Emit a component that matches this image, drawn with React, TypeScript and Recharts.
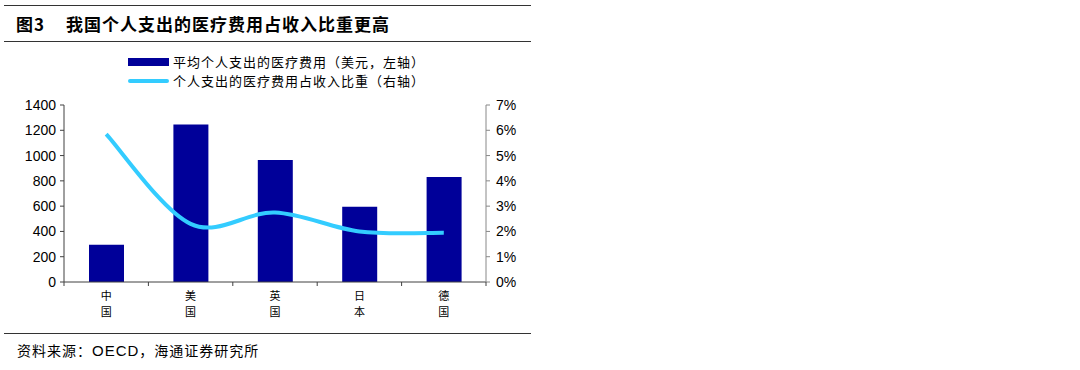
import { ComposedChart, Bar, Line, XAxis, YAxis } from 'recharts'

const categories = ['中国', '美国', '英国', '日本', '德国']
const spending = [295, 1245, 965, 595, 830]
const shareOfIncome = [5.85, 2.3, 2.75, 2.0, 1.95]
const leftTicks = [0, 200, 400, 600, 800, 1000, 1200, 1400]
const rightTicks = [0, 1, 2, 3, 4, 5, 6, 7]

const barName = '平均个人支出的医疗费用（美元，左轴）'
const lineName = '个人支出的医疗费用占收入比重（右轴）'

const data = categories.map((name, i) => ({
  name,
  spending: spending[i],
  share: shareOfIncome[i],
}))

const BAR_COLOR = '#000099'
const LINE_COLOR = '#33CCFF'
const CJK = '"Noto Sans CJK SC", sans-serif'
const LATIN = '"Liberation Sans", Arial, sans-serif'
const BAND = (486 - 64) / categories.length

// Excel-style smoothed line (Catmull-Rom through the points)
function smoothCurve(context: any) {
  let pts: [number, number][] = []
  return {
    areaStart() {},
    areaEnd() {},
    lineStart() {
      pts = []
    },
    lineEnd() {
      if (!pts.length) return
      context.moveTo(pts[0][0], pts[0][1])
      for (let i = 0; i < pts.length - 1; i++) {
        const p0 = pts[Math.max(0, i - 1)]
        const p1 = pts[i]
        const p2 = pts[i + 1]
        const p3 = pts[Math.min(pts.length - 1, i + 2)]
        context.bezierCurveTo(
          p1[0] + (p2[0] - p0[0]) / 6,
          p1[1] + (p2[1] - p0[1]) / 6,
          p2[0] - (p3[0] - p1[0]) / 6,
          p2[1] - (p3[1] - p1[1]) / 6,
          p2[0],
          p2[1]
        )
      }
    },
    point(x: number, y: number) {
      pts.push([+x, +y])
    },
  }
}

function CategoryTick(props: any) {
  const { x, y, payload, index } = props
  const chars = String(payload.value).split('')
  return (
    <g>
      <line x1={x - BAND / 2} y1={y} x2={x - BAND / 2} y2={y + 4} stroke="#404040" />
      {index === categories.length - 1 && (
        <line x1={x + BAND / 2} y1={y} x2={x + BAND / 2} y2={y + 4} stroke="#404040" />
      )}
      <text textAnchor="middle" fontSize={11} fontFamily={CJK} fill="#000">
        {chars.map((c, i) => (
          <tspan key={i} x={x} y={y + 18 + i * 16}>
            {c}
          </tspan>
        ))}
      </text>
    </g>
  )
}

function LegendBox() {
  const row = (swatch: any, label: string) => (
    <div style={{ display: 'flex', alignItems: 'center', height: 19 }}>
      <div style={{ width: 41, display: 'flex', alignItems: 'center' }}>{swatch}</div>
      <span style={{ marginLeft: 4, fontSize: 13, fontFamily: CJK, color: '#000', letterSpacing: 1 }}>
        {label}
      </span>
    </div>
  )
  return (
    <div style={{ position: 'absolute', top: 52, left: 128, width: 320 }}>
      {row(<div style={{ width: 41, height: 8, background: BAR_COLOR }} />, barName)}
      {row(<div style={{ width: 41, height: 4, background: LINE_COLOR, borderRadius: 2 }} />, lineName)}
    </div>
  )
}

export default function App() {
  return (
    <div
      style={{
        position: 'absolute',
        left: 0,
        top: 0,
        width: 1080,
        height: 370,
        background: '#fff',
        overflow: 'hidden',
      }}
    >
      <div style={{ position: 'absolute', left: 4, top: 5, width: 527, height: 1, background: '#333' }} />
      <div
        style={{
          position: 'absolute',
          left: 16,
          top: 11,
          fontSize: 17,
          fontWeight: 700,
          fontFamily: CJK,
          color: '#000',
          whiteSpace: 'nowrap',
          letterSpacing: 1,
        }}
      >
        <span>图3</span>
        <span style={{ marginLeft: 21 }}>我国个人支出的医疗费用占收入比重更高</span>
      </div>
      <div style={{ position: 'absolute', left: 4, top: 41, width: 527, height: 1, background: '#333' }} />

      <LegendBox />

      <div style={{ position: 'absolute', left: 0, top: 0 }}>
        <ComposedChart
          width={540}
          height={330}
          data={data}
          margin={{ top: 105, right: 10, bottom: 18, left: 14 }}
          barCategoryGap="29%"
        >
          <XAxis
            dataKey="name"
            xAxisId="x"
            stroke="#404040"
            tickLine={false}
            tickSize={0}
            tickMargin={0}
            height={30}
            interval={0}
            tick={<CategoryTick />}
          />
          <YAxis
            yAxisId="left"
            domain={[0, 1400]}
            ticks={leftTicks}
            width={50}
            stroke="#404040"
            tickSize={4}
            tickMargin={4}
            interval={0}
            tick={{ fill: '#000', fontSize: 14, fontFamily: LATIN }}
          />
          <YAxis
            yAxisId="right"
            orientation="right"
            domain={[0, 7]}
            ticks={rightTicks}
            width={44}
            stroke="#888"
            tickSize={4}
            tickMargin={6}
            interval={0}
            tickFormatter={(v: number) => `${v}%`}
            tick={{ fill: '#000', fontSize: 14, fontFamily: LATIN }}
          />
          <Bar
            dataKey="spending"
            name={barName}
            xAxisId="x"
            yAxisId="left"
            fill={BAR_COLOR}
            barSize={35}
            isAnimationActive={false}
          />
          <Line
            dataKey="share"
            name={lineName}
            xAxisId="x"
            yAxisId="right"
            type={smoothCurve as any}
            stroke={LINE_COLOR}
            strokeWidth={4}
            dot={false}
            activeDot={false}
            isAnimationActive={false}
          />
        </ComposedChart>
      </div>

      <div style={{ position: 'absolute', left: 4, top: 333, width: 527, height: 1, background: '#333' }} />
      <div
        style={{
          position: 'absolute',
          left: 17,
          top: 340,
          fontSize: 14,
          fontFamily: CJK,
          color: '#000',
          whiteSpace: 'nowrap',
          letterSpacing: 1,
        }}
      >
        资料来源：<span style={{ fontFamily: LATIN, fontSize: 15 }}>OECD</span>，海通证券研究所
      </div>
    </div>
  )
}
